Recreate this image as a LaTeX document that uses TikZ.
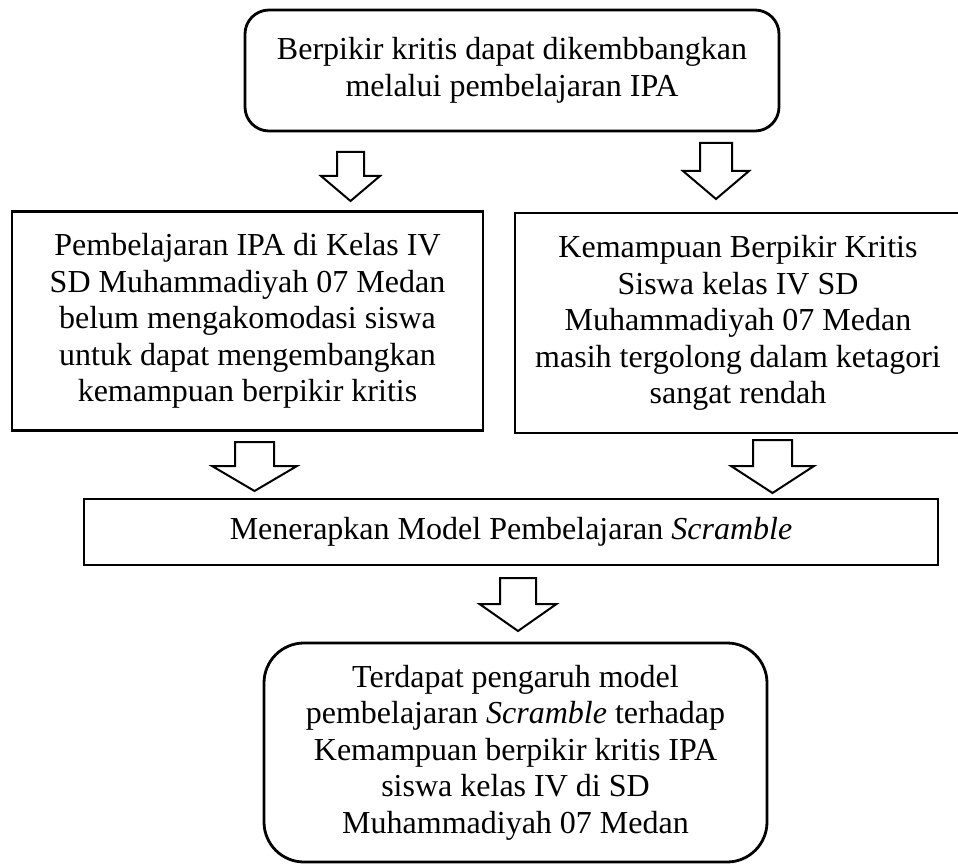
\documentclass[tikz,border=0pt]{standalone}
\usepackage{fontspec}
\setmainfont{Liberation Serif}
\newcommand\blkarrow[6]{%
  \draw[blockarrow] (#1-#5,#2) -- (#1+#5,#2) -- (#1+#5,#3) -- (#1+#6,#3)
    -- (#1,#4) -- (#1-#6,#3) -- (#1-#5,#3) -- cycle;}
\begin{document}
\begin{tikzpicture}[x=0.5pt,y=-0.5pt,
  box/.style={draw, line width=1.4pt, align=center, inner sep=0pt,
    font=\fontsize{16}{18.25}\selectfont},
  blockarrow/.style={draw, line width=1pt, line join=miter, fill=white}]
\fill[white] (0,0) rectangle (958,866);
\useasboundingbox (0,0) rectangle (958,866);

\node[box, rounded corners=12pt, minimum width=267pt, minimum height=60.5pt]
  (top) at (512,70.5) {Berpikir kritis dapat dikembbangkan\\melalui pembelajaran IPA};

\node[box, minimum width=235.5pt, minimum height=109.5pt]
  (left) at (247.5,321) {Pembelajaran IPA di Kelas IV\\SD Muhammadiyah 07 Medan\\belum mengakomodasi siswa\\untuk dapat mengembangkan\\kemampuan berpikir kritis};

\node[box, minimum width=223pt, minimum height=110pt]
  (right) at (738,323) {Kemampuan Berpikir Kritis\\Siswa kelas IV SD\\Muhammadiyah 07 Medan\\masih tergolong dalam ketagori\\sangat rendah};

\node[box, minimum width=427pt, minimum height=33pt]
  (mid) at (511,532) {Menerapkan Model Pembelajaran \textit{Scramble}};

\node[box, rounded corners=20pt, minimum width=251.5pt, minimum height=109.5pt]
  (bottom) at (515.5,752.5) {Terdapat pengaruh model\\pembelajaran \textit{Scramble} terhadap\\Kemampuan berpikir kritis IPA\\siswa kelas IV di SD\\Muhammadiyah 07 Medan};

\blkarrow{350.5}{152}{176}{201}{13.5}{29.5}
\blkarrow{716}{143}{171}{199}{16}{33}
\blkarrow{254.5}{442}{466}{491}{19.5}{42.5}
\blkarrow{772.5}{440}{466}{493}{19.5}{41.5}
\blkarrow{518}{578}{604}{631}{18}{38.5}
\end{tikzpicture}
\end{document}
